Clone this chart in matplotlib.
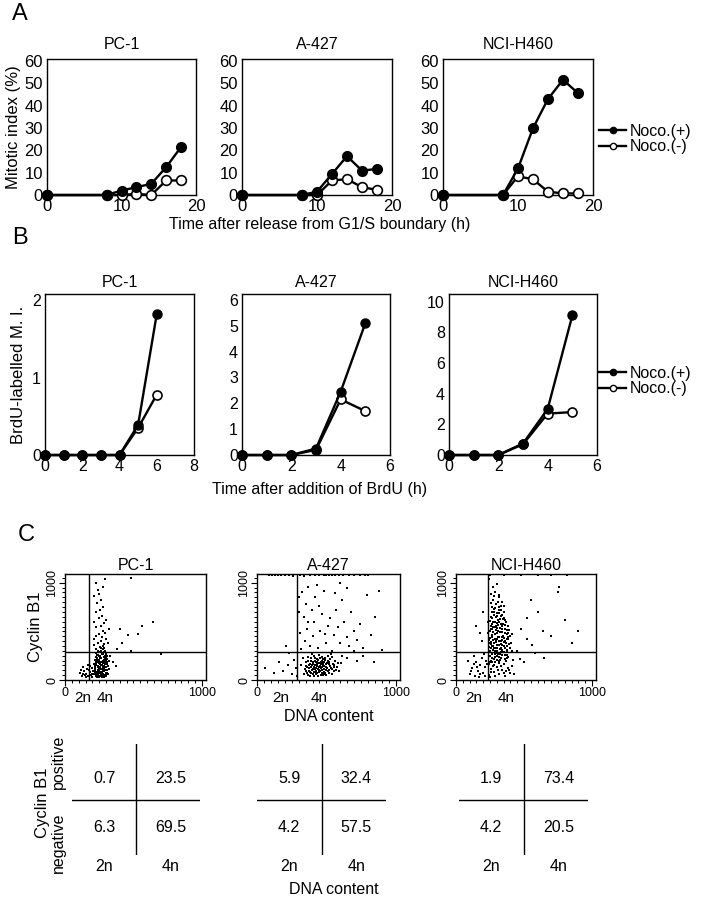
import matplotlib
matplotlib.use('Agg')
import matplotlib.pyplot as plt
from matplotlib.ticker import MultipleLocator, FixedLocator
from matplotlib.lines import Line2D

plt.rcParams['font.family'] = ['Liberation Sans', 'DejaVu Sans']

W, H = 704, 900

cell_lines = ['PC-1', 'A-427', 'NCI-H460']

# ---- panel A: mitotic index after release from G1/S
a_time = [0, 8, 10, 12, 14, 16, 18]
a_pc1_plus = [0, 0, 2, 3.5, 5, 12.5, 21.5]
a_pc1_minus = [0, 0, 0, 0.5, 0, 6.5, 6.5]
a_a427_plus = [0, 0, 1.5, 9.4, 17.4, 10.9, 11.7]
a_a427_minus = [0, 0, 0, 6.5, 7.1, 3.5, 2.3]
a_h460_plus = [0, 0, 11.9, 29.9, 43, 51.6, 45.6]
a_h460_minus = [0, 0, 8.4, 7, 1.5, 0.7, 0.7]

# ---- panel B: BrdU-labelled mitotic index
b_time_pc1 = [0, 1, 2, 3, 4, 5, 6]
b_time = [0, 1, 2, 3, 4, 5]
b_pc1_plus = [0, 0, 0, 0, 0, 0.39, 1.82]
b_pc1_minus = [0, 0, 0, 0, 0, 0.35, 0.78]
b_a427_plus = [0, 0, 0, 0.25, 2.45, 5.1]
b_a427_minus = [0, 0, 0, 0.2, 2.15, 1.7]
b_h460_plus = [0, 0, 0, 0.75, 3.0, 9.1]
b_h460_minus = [0, 0, 0, 0.7, 2.7, 2.8]

# ---- panel C: cyclin B1 vs DNA content (channel units)
c_gate_x = [175, 288, 232]
c_gate_y = [290, 290, 290]
c_2n_tick = [131, 173, 132]
c_4n_tick = [292, 447, 368]

pc1_dots = [
    (215, 60), (225, 45), (232, 80), (240, 55), (248, 95), (255, 70), (262, 40), (270, 110),
    (278, 65), (285, 90), (292, 50), (300, 130), (308, 75), (220, 120), (230, 150), (238, 105),
    (246, 170), (254, 135), (262, 190), (270, 155), (278, 200), (286, 140), (294, 180), (302, 210),
    (310, 160), (218, 85), (226, 195), (234, 230), (242, 140), (250, 210), (258, 250), (266, 225),
    (274, 265), (282, 240), (290, 300), (298, 270), (306, 245), (236, 35), (252, 30), (268, 28),
    (284, 35), (300, 40), (316, 60), (320, 110), (212, 160), (244, 260), (260, 300), (276, 320),
    (288, 330), (228, 275), (245, 120), (265, 85), (280, 170), (295, 100), (235, 180), (255, 160),
    (275, 135), (290, 225), (305, 190), (240, 75), (260, 60), (285, 120), (225, 235), (250, 285),
    (222, 100), (231, 65), (239, 130), (247, 45), (256, 115), (264, 150), (273, 85), (281, 55),
    (289, 160), (297, 75), (306, 105), (314, 140), (227, 170), (243, 200), (259, 230), (271, 185),
    (283, 210), (295, 245), (233, 215), (249, 250), (267, 270), (287, 285), (303, 230), (219, 140),
    (237, 260), (253, 180), (279, 100), (293, 130), (309, 220), (241, 300), (263, 330), (281, 350),
    (229, 320), (217, 210), (300, 160), (318, 200), (226, 60), (244, 35), (276, 45), (296, 60),
    (110, 70), (125, 45), (140, 90), (150, 60), (160, 110), (170, 40), (180, 80), (190, 55),
    (200, 120), (135, 130), (165, 150), (195, 30), (205, 90), (120, 100), (185, 140),
    (145, 50), (175, 100), (155, 35), (198, 65), (130, 60),
    (215, 360), (240, 380), (262, 400), (285, 370), (300, 420), (225, 450), (250, 470), (275, 500),
    (295, 480), (230, 540), (260, 560), (285, 590), (210, 600), (245, 640), (270, 660), (300, 620),
    (225, 700), (255, 720), (280, 750), (235, 790), (265, 820), (215, 860), (250, 880), (240, 930),
    (275, 960), (225, 1000), (290, 1040), (210, 420), (315, 380), (320, 520), (255, 340), (270, 440),
    (420, 380), (460, 460), (400, 520), (530, 470), (560, 560), (480, 300), (640, 600), (380, 320),
    (700, 270), (480, 1050), (330, 250), (350, 180), (370, 140),
]

a427_dots = [
    (340, 60), (355, 90), (365, 50), (375, 120), (385, 80), (395, 150), (405, 60), (415, 110),
    (425, 180), (435, 70), (445, 130), (455, 95), (465, 200), (475, 55), (485, 140), (495, 100),
    (505, 170), (515, 75), (525, 220), (535, 120), (545, 160), (555, 90), (350, 180), (370, 200),
    (390, 230), (410, 250), (430, 220), (450, 260), (470, 240), (490, 210), (510, 250), (530, 270),
    (360, 130), (380, 40), (400, 190), (420, 150), (440, 45), (460, 160), (480, 80), (500, 50),
    (520, 190), (540, 60), (420, 85), (440, 205), (460, 120), (400, 110), (380, 165), (480, 190),
    (500, 130), (450, 170), (470, 100), (430, 140), (410, 40), (390, 70), (560, 200), (575, 130),
    (590, 90), (605, 170), (330, 230), (320, 150), (415, 200), (445, 100), (475, 150), (505, 120),
    (435, 160), (465, 75), (395, 100), (425, 125), (455, 225), (485, 110),
    (345, 110), (362, 75), (378, 95), (392, 130), (408, 85), (422, 60), (438, 110), (452, 140),
    (468, 130), (482, 60), (498, 160), (512, 95), (528, 140), (542, 110), (558, 150), (372, 150),
    (388, 200), (402, 160), (418, 230), (432, 190), (448, 80), (462, 185), (478, 215), (492, 75),
    (508, 200), (522, 105), (538, 240), (552, 130), (568, 100), (582, 170), (412, 130), (428, 95),
    (442, 170), (458, 55), (472, 170), (488, 230), (350, 140), (365, 240), (395, 270), (520, 160),
    (320, 320), (345, 400), (360, 520), (335, 650), (350, 780), (325, 900), (370, 960), (380, 350),
    (400, 450), (410, 600), (395, 720), (420, 850), (440, 330), (455, 500), (470, 680), (445, 760),
    (480, 920), (500, 380), (510, 560), (525, 640), (540, 300), (555, 460), (570, 720), (585, 540),
    (600, 380), (615, 820), (630, 600), (645, 440), (660, 350), (680, 700), (700, 500), (720, 410),
    (740, 580), (760, 330), (790, 870), (820, 460), (850, 650), (880, 920), (650, 950), (560, 890),
    (430, 980), (600, 1000), (900, 310), (700, 300), (370, 600), (490, 470), (610, 250), (650, 230),
    (720, 200), (840, 180), (760, 250),
    (60, 120), (120, 70), (160, 180), (190, 90), (220, 150), (250, 60), (270, 210), (230, 280),
    (280, 120), (290, 40), (210, 350), (310, 480), (305, 700), (300, 850),
    (90, 1075), (110, 1075), (130, 1075), (150, 1075), (170, 1075), (200, 1075), (230, 1075),
    (260, 1070), (310, 1075), (340, 1070), (380, 1075), (420, 1075), (450, 1075), (480, 1075),
    (500, 1075), (520, 1075), (540, 1075), (560, 1075), (590, 1075), (620, 1075), (660, 1075),
    (700, 1075), (740, 1075), (780, 1075), (800, 1075),
]

h460_dots = [
    (245, 160), (262, 190), (280, 150), (298, 210), (315, 175), (332, 230), (350, 165), (368, 200),
    (385, 240), (250, 250), (268, 280), (286, 240), (304, 300), (322, 265), (340, 310), (358, 255),
    (376, 290), (394, 330), (242, 340), (260, 370), (278, 330), (296, 390), (314, 355), (332, 400),
    (350, 345), (368, 380), (386, 420), (248, 430), (266, 460), (284, 420), (302, 480), (320, 445),
    (338, 490), (356, 435), (374, 470), (392, 510), (255, 520), (273, 550), (291, 510), (309, 570),
    (327, 535), (345, 580), (363, 525), (381, 560), (250, 610), (268, 640), (286, 600), (304, 660),
    (322, 625), (340, 670), (358, 615), (262, 700), (280, 730), (298, 690), (316, 750), (334, 715),
    (352, 760), (255, 790), (275, 820), (295, 780), (315, 850), (335, 805), (260, 880), (290, 910),
    (320, 870), (270, 960), (305, 990), (240, 1040), (350, 1075), (250, 1075),
    (255, 200), (290, 180), (325, 205), (360, 220), (270, 310), (305, 330), (340, 285), (375, 350),
    (258, 395), (292, 410), (328, 375), (362, 405), (275, 490), (310, 505), (345, 455), (380, 440),
    (265, 575), (300, 590), (335, 560), (370, 600), (280, 670), (315, 690), (350, 700), (238, 480),
    (236, 600), (405, 380), (410, 470), (415, 300), (240, 250), (420, 210), (282, 215), (318, 240),
    (262, 345), (298, 360), (334, 330), (270, 415), (306, 440), (342, 410), (285, 540), (320, 600),
    (248, 190), (266, 225), (284, 265), (302, 245), (320, 195), (338, 255), (356, 290), (374, 225),
    (252, 300), (270, 345), (288, 300), (306, 270), (324, 320), (342, 360), (360, 330), (378, 310),
    (246, 410), (264, 440), (282, 385), (300, 425), (318, 400), (336, 440), (354, 390), (372, 420),
    (250, 500), (268, 520), (286, 470), (304, 530), (322, 495), (340, 520), (358, 480), (376, 510),
    (256, 560), (274, 600), (292, 560), (310, 620), (328, 580), (346, 630), (364, 570), (260, 650),
    (278, 700), (296, 650), (314, 720), (332, 660), (350, 640), (268, 750), (290, 740), (310, 800),
    (330, 760), (280, 860), (258, 330), (296, 330), (334, 290), (372, 260), (390, 370), (396, 450),
    (262, 270), (300, 280), (244, 380), (386, 480),
    (100, 60), (120, 120), (140, 40), (160, 90), (180, 150), (200, 70), (220, 200), (240, 50),
    (260, 110), (280, 80), (300, 130), (320, 60), (340, 100), (360, 45), (380, 120), (400, 70),
    (150, 180), (190, 230), (130, 250), (170, 30), (210, 130), (250, 30), (290, 40), (330, 140),
    (370, 90), (410, 140), (430, 60), (90, 200), (205, 270), (155, 130),
    (230, 160), (270, 140), (310, 100), (350, 70), (390, 100), (110, 90), (135, 160), (175, 60),
    (215, 40), (255, 80),
    (150, 560), (180, 480), (200, 700), (190, 400),
    (450, 300), (480, 520), (520, 420), (560, 360), (600, 700), (640, 500), (700, 450), (750, 900),
    (760, 960), (800, 620), (850, 380), (900, 500), (550, 820), (470, 220), (500, 180), (650, 230),
    (700, 1075), (820, 1075), (600, 1075), (480, 1075), (520, 640), (580, 280),
]

# ---- panel C table values (%)
pos_2n = [0.7, 5.9, 1.9]
pos_4n = [23.5, 32.4, 73.4]
neg_2n = [6.3, 4.2, 4.2]
neg_4n = [69.5, 57.5, 20.5]


def px_axes(fig, x0, x1, y0, y1):
    # pixel box (top-left origin) -> figure axes
    return fig.add_axes([x0 / W, 1 - y1 / H, (x1 - x0) / W, (y1 - y0) / H])


def time_course(ax, t, plus, minus, ymax, yticks, xmax, xticks, ms, tick_size):
    ax.plot(t, minus, '-o', color='black', lw=1.7, ms=ms, mfc='white', mec='black',
            mew=1.2, clip_on=False, zorder=3)
    ax.plot(t, plus, '-o', color='black', lw=1.7, ms=ms, mfc='black', mec='black',
            clip_on=False, zorder=4)
    ax.set_xlim(0, xmax)
    ax.set_ylim(0, ymax)
    ax.set_xticks(xticks)
    ax.set_yticks(yticks)
    ax.tick_params(length=0, labelsize=tick_size, pad=3)
    for s in ax.spines.values():
        s.set_linewidth(1.0)


fig = plt.figure(figsize=(W / 100, H / 100), dpi=100)

leg_handles = [Line2D([], [], color='black', lw=1.7, marker='o', ms=4.5, mfc='black'),
               Line2D([], [], color='black', lw=1.7, marker='o', ms=4.5, mfc='white', mec='black')]
leg_labels = ['Noco.(+)', 'Noco.(-)']

# ---------------- A
a_plus = [a_pc1_plus, a_a427_plus, a_h460_plus]
a_minus = [a_pc1_minus, a_a427_minus, a_h460_minus]
a_boxes = [(47, 196), (242, 392), (443, 593)]
a_axes = []
for i, (x0, x1) in enumerate(a_boxes):
    ax = px_axes(fig, x0, x1, 59, 195)
    time_course(ax, a_time, a_plus[i], a_minus[i], 60.9, range(0, 61, 10), 20, [0, 10, 20], 7, 12)
    ax.set_title(cell_lines[i], fontsize=11.5, pad=7)
    a_axes.append(ax)
a_axes[0].set_ylabel('Mitotic index (%)', fontsize=12, labelpad=2)
fig.text(320 / W, 1 - 225 / H, 'Time after release from G1/S boundary (h)', fontsize=11.5,
         ha='center', va='center')
fig.text(12 / W, 1 - 14 / H, 'A', fontsize=17, ha='left', va='center')
fig.legend(leg_handles, leg_labels, loc='center left',
           bbox_to_anchor=(599 / W, 1 - 139 / H), frameon=False, fontsize=11.5,
           handlelength=1.7, handletextpad=0.25, labelspacing=0.05, borderpad=0,
           borderaxespad=0)

# ---------------- B
b_t = [b_time_pc1, b_time, b_time]
b_plus = [b_pc1_plus, b_a427_plus, b_h460_plus]
b_minus = [b_pc1_minus, b_a427_minus, b_h460_minus]
b_boxes = [(45, 194), (242, 390), (449, 597)]
b_ymax = [2.08, 6.23, 10.5]
b_yticks = [[0, 1, 2], range(0, 7), range(0, 11, 2)]
b_xmax = [8, 6, 6]
b_xticks = [range(0, 9, 2), range(0, 7, 2), range(0, 7, 2)]
b_axes = []
for i, (x0, x1) in enumerate(b_boxes):
    ax = px_axes(fig, x0, x1, 294, 455)
    time_course(ax, b_t[i], b_plus[i], b_minus[i], b_ymax[i], b_yticks[i], b_xmax[i],
                b_xticks[i], 6.5, 11.5)
    ax.set_title(cell_lines[i], fontsize=11.5, pad=5)
    b_axes.append(ax)
b_axes[0].set_ylabel('BrdU-labelled M. I.', fontsize=12, labelpad=4)
fig.text(320 / W, 1 - 490 / H, 'Time after addition of BrdU (h)', fontsize=11.5,
         ha='center', va='center')
fig.text(12 / W, 1 - 238 / H, 'B', fontsize=17, ha='left', va='center')
fig.legend(leg_handles, leg_labels, loc='center left',
           bbox_to_anchor=(599 / W, 1 - 381 / H), frameon=False, fontsize=11.5,
           handlelength=1.7, handletextpad=0.25, labelspacing=0.05, borderpad=0,
           borderaxespad=0)

# ---------------- C scatter
c_dots = [pc1_dots, a427_dots, h460_dots]
c_boxes = [(65, 206), (257, 400), (456, 596)]
for i, (x0, x1) in enumerate(c_boxes):
    ax = px_axes(fig, x0, x1, 574, 680)
    xs = [p[0] for p in c_dots[i]]
    ys = [p[1] for p in c_dots[i]]
    ax.scatter(xs, ys, s=3.2, c='black', marker='s', linewidths=0, clip_on=False)
    ax.axvline(c_gate_x[i], color='black', lw=1.0)
    ax.axhline(c_gate_y[i], color='black', lw=1.0)
    ax.set_xlim(0, 1030)
    ax.set_ylim(0, 1090)
    ax.xaxis.set_major_locator(FixedLocator([0, 1000]))
    ax.yaxis.set_major_locator(FixedLocator([0, 1000]))
    ax.xaxis.set_minor_locator(MultipleLocator(50))
    ax.yaxis.set_minor_locator(MultipleLocator(50))
    ax.tick_params(which='major', direction='out', length=4, width=0.8, labelsize=9, pad=1)
    ax.tick_params(which='minor', direction='out', length=2.5, width=0.7)
    ax.set_yticklabels(['0', '1000'], rotation=90, va='center')
    for s in ax.spines.values():
        s.set_linewidth(1.0)
    ax.set_title(cell_lines[i], fontsize=11.5, pad=3)
    tr = ax.get_xaxis_transform()
    ax.text(c_2n_tick[i], -0.17, '2n', transform=tr, ha='center', va='center', fontsize=11)
    ax.text(c_4n_tick[i], -0.17, '4n', transform=tr, ha='center', va='center', fontsize=11)
    if i == 0:
        ax.set_ylabel('Cyclin B1', fontsize=12, labelpad=2)
    if i == 1:
        ax.set_xlabel('DNA content', fontsize=11.5, labelpad=7)
fig.text(18 / W, 1 - 535 / H, 'C', fontsize=17, ha='left', va='center')

# ---------------- C table
t_boxes = [(72, 200), (257, 386), (459, 588)]
for i, (x0, x1) in enumerate(t_boxes):
    ax = px_axes(fig, x0, x1, 744, 855)
    ax.set_xlim(0, 1)
    ax.set_ylim(0, 1)
    ax.axis('off')
    ax.axhline(0.5, color='black', lw=1.0)
    ax.axvline(0.5, color='black', lw=1.0)
    cells = [(0.25, 0.69, pos_2n[i]), (0.77, 0.69, pos_4n[i]),
             (0.25, 0.25, neg_2n[i]), (0.77, 0.25, neg_4n[i])]
    for cx, cy, v in cells:
        ax.text(cx, cy, f'{v:.1f}', ha='center', va='center', fontsize=11.5)
    ax.text(0.25, -0.1, '2n', ha='center', va='center', fontsize=11.5)
    ax.text(0.77, -0.1, '4n', ha='center', va='center', fontsize=11.5)
fig.text(334 / W, 1 - 889 / H, 'DNA content', fontsize=11.5, ha='center', va='center')
fig.text(43 / W, 1 - 803 / H, 'Cyclin B1', fontsize=12, ha='center', va='center', rotation=90)
fig.text(58 / W, 1 - 762 / H, 'positive', fontsize=11.5, ha='center', va='center', rotation=90)
fig.text(58 / W, 1 - 843 / H, 'negative', fontsize=11.5, ha='center', va='center', rotation=90)

fig.savefig('out.png', dpi=100)
